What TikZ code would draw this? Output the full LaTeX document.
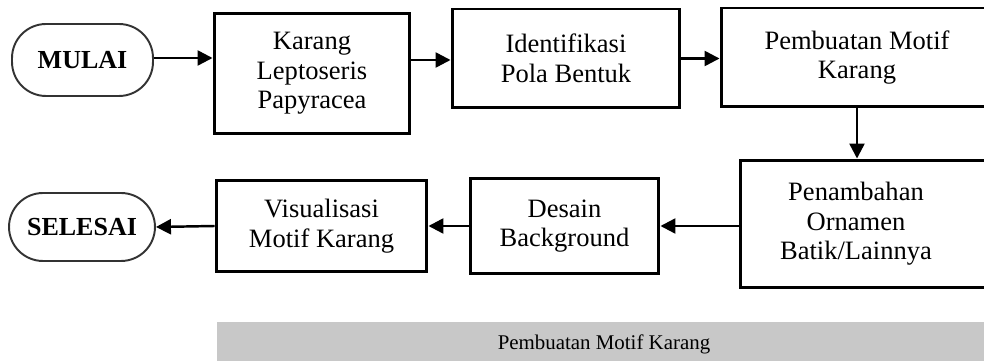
\documentclass[tikz,border=0pt]{standalone}
\usepackage{fontspec}
\setmainfont{Liberation Serif}
\usepackage{tikz}
\usetikzlibrary{positioning,calc,arrows.meta}

\definecolor{bargray}{HTML}{C8C8C8}

\begin{document}
\begin{tikzpicture}[x=0.02cm, y=-0.02cm,
        every node/.style={font=\fontsize{15.1pt}{16.8pt}\selectfont},
        box/.style={draw, line width=1.7pt, align=center, inner sep=0pt},
        terminal/.style={draw=black!80, line width=1.1pt, rounded corners=0.68cm, inner sep=0pt,
                         font=\fontsize{14.8pt}{16pt}\selectfont\bfseries},
        flow/.style={-{Triangle[length=0.3cm, width=0.3cm]}, line width=1.4pt}]
                \useasboundingbox (0,0) rectangle (984,361);
                \clip (0,0) rectangle (984,361);
                % start and end
                \node[terminal, minimum width=2.82cm, minimum height=1.44cm] (mulai) at (82.5,60) {MULAI};
                \node[terminal, minimum width=2.92cm, minimum height=1.36cm] (selesai) at (82,227) {SELESAI};
                % top row
                \node[box, minimum width=3.92cm, minimum height=2.42cm] (karang) at (312,73.5) {Karang\\Leptoseris\\Papyracea};
                \node[box, minimum width=4.56cm, minimum height=1.98cm] (pola) at (566,58.5) {Identifikasi\\Pola Bentuk};
                \node[box, minimum width=5.44cm, minimum height=1.98cm] (motif) at (857,57.5) {Pembuatan Motif\\Karang};
                % bottom row
                \node[box, minimum width=5.3cm, minimum height=2.56cm, anchor=west] (ornamen) at (739,224) {};
                \node[align=center] (ornamentxt) at (856,224) {Penambahan\\Ornamen\\Batik/Lainnya};
                \node[box, minimum width=3.78cm, minimum height=1.92cm] (desain) at (564.5,226) {Desain\\Background};
                \node[box, minimum width=4.22cm, minimum height=1.84cm] (visual) at (321.5,226) {Visualisasi\\Motif Karang};
                % caption bar
                \node[fill=bargray, minimum width=15.7cm, minimum height=0.8cm, anchor=north west, inner sep=0pt] (bar) at (217,322) {};
                \node[font=\fontsize{11.9pt}{13pt}\selectfont] (bartxt) at (604,344) {Pembuatan Motif Karang};

                \draw[flow] ($(mulai.east)+(0,-2)$) -- ($(mulai.east -| karang.west)+(0,-2)$);
                \draw[flow] ($(pola.west -| karang.east)+(0,1.5)$) -- ($(pola.west)+(0,1.5)$);
                \draw[flow] (pola.east) -- (pola.east -| motif.west);
                \draw[flow] (motif.south) -- (motif.south |- ornamen.north);
                \draw[flow] (desain.east -| ornamen.west) -- (desain.east);
                \draw[flow] (desain.west) -- (desain.west -| visual.east);
                \draw[flow] (visual.west) -- (selesai.east);
            \end{tikzpicture}
\end{document}
